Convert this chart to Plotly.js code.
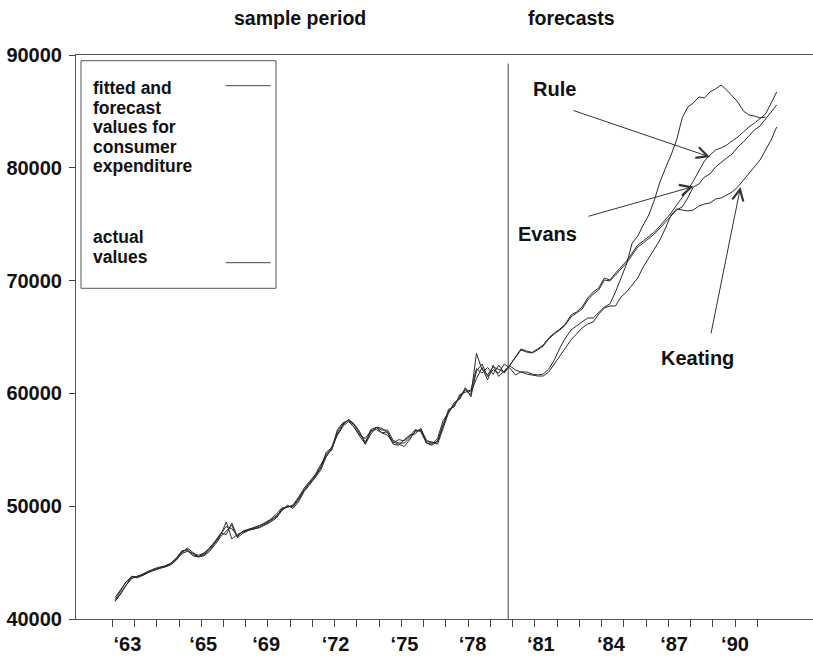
<!DOCTYPE html>
<html><head><meta charset="utf-8">
<script src="https://cdn.plot.ly/plotly-3.0.1.min.js"></script>
<style>html,body{margin:0;padding:0;background:#fff}#chart{width:813px;height:658px}</style>
</head><body><div id="chart"></div>
<script>
// quarterly data, first quarter = 1962 Q1 (axis years as labelled in the source figure)
const startYear = 1962;
const sampleEnd = 1979.8;

const tickYears  = [1962,1963,1964,1965,1966,1967,1968,1969,1970,1971,1972,1973,1974,1975,1976,1977,1978,1979,1980,1981,1982,1983,1984,1985,1986,1987,1988,1989,1990,1991];
// label positions as printed in the source (slightly off the tick marks)
const labelPos   = [1962.68,1966.09,1968.92,1972.04,1975.14,1978.20,1981.27,1984.42,1987.26,1990.00];
const labelText  = ['\u201863','\u201865','\u201869','\u201872','\u201875','\u201878','\u201881','\u201884','\u201887','\u201890'];
const yTicks = [40000,50000,60000,70000,80000,90000];

const actual = [
41550,42300,43100,43750,43650,43900,44100,44350,44500,44600,
44800,45250,45950,46200,45700,45550,45700,46100,46750,47450,
48600,47100,47500,47700,47900,48000,48150,48400,48700,49050,
49750,50000,49950,50550,51450,52050,52600,53400,54650,55000,
56600,57300,57650,57200,56500,55700,56600,56950,56750,56750,
55850,55600,55600,56050,56600,56850,55850,55600,55700,57200,
58450,58950,59750,60300,59850,63550,62100,61650,62350,62100,
61900,62450,
62080,61900,61900,61720,61630,61720,62160,62960,64030,64910,
65620,65980,66330,66690,66690,67220,67660,67930,68990,70230,
71470,73330,73950,74930,75820,77150,78740,79980,81130,82470,
84420,85390,85740,86280,86190,86720,86990,87340,86900,86370,
85830,85040,84680,84590,84420,84500];

const rule = [
41900,42600,43300,43600,43800,43950,44200,44400,44550,44700,
44950,45400,45800,46000,45800,45650,45850,46300,46900,47600,
47500,48500,47300,47800,47950,48100,48300,48550,48850,49300,
49850,49900,50100,50800,51600,52200,52800,53700,54400,55300,
56300,57100,57500,57000,56300,56000,56700,56800,56500,56300,
55600,55900,55800,56200,56800,56600,55600,55500,56000,57600,
58300,59200,59500,60400,60100,61300,62300,61200,62500,61500,
62000,62500,
63230,63940,63760,63630,63940,64290,64910,65360,65710,66150,
66950,67220,67660,68460,68990,69350,70230,70050,70670,71210,
71740,72450,73160,73510,73870,74310,74840,75370,75990,76700,
77320,78030,78830,79720,80600,81130,81580,81760,82020,82380,
82730,83170,83620,83970,84330,84770,85740,86720];

const evans = [
41700,42500,43300,43800,43700,44000,44250,44450,44600,44700,
44900,45350,46050,46100,45600,45500,45800,46250,46850,47500,
48200,48000,47400,47750,47950,48050,48250,48500,48750,49150,
49650,49950,50000,50700,51500,52100,52700,53500,54800,55200,
56800,57400,57600,57000,56200,55500,56800,57000,56500,56600,
55500,55400,55900,56300,56400,56900,55600,55400,55800,57300,
58600,58800,59900,60100,60300,62200,61800,62300,61700,62500,
61800,62500,
63140,63850,63670,63580,63850,64200,64820,65270,65620,66070,
66770,67130,67480,68280,68810,69170,70050,69970,70500,71030,
71560,72270,72980,73330,73690,74130,74660,75200,75730,76260,
76530,77320,78300,78560,79180,79450,80070,80510,80870,81220,
81840,82290,82820,83350,83710,84330,84950,85570];

const keating = [
41600,42200,43000,43600,43800,43850,44150,44300,44450,44650,
44850,45200,45800,46300,45900,45500,45600,46000,46600,47300,
47800,48300,47200,47600,47850,48000,48100,48350,48600,48950,
49600,50100,49800,50400,51300,51900,52500,53200,54400,55100,
56400,57200,57700,57300,56600,55500,56400,57000,56900,56500,
55700,55500,55300,55900,56700,56700,55700,55700,55500,56900,
58300,59000,59600,60500,59700,62000,62600,61500,62100,61800,
62600,62250,
61630,61900,61720,61630,61540,61540,61900,62610,63320,64030,
64740,65270,65800,66150,66330,67040,67570,67750,67750,68550,
68990,69610,70230,71210,72000,72710,73600,74660,75820,76350,
76260,76170,76260,76610,76790,76880,77230,77320,77590,77860,
78300,78920,79540,80070,80690,81580,82470,83620];

function quarters(n){ const a=[]; for(let i=0;i<n;i++) a.push(startYear+(i+0.5)/4); return a; }

const W=813, H=658, M={l:76,r:0,t:55,b:39};
const PW=W-M.l-M.r, PH=H-M.t-M.b;
const px = v => (v-M.l)/PW;
const py = v => (H-M.b-v)/PH;
const FONT = 'Liberation Sans, Arial, sans-serif';
const XRANGE = [1960.368, 1993.507];

const lineStyle = {color:'#2a2a2a', width:1};
const traces = [actual, rule, evans, keating].map(s => ({
  x: quarters(s.length), y: s, type:'scatter', mode:'lines', line: lineStyle, hoverinfo:'skip'
}));
traces.push({x:[], y:[], xaxis:'x2', type:'scatter', mode:'lines', hoverinfo:'skip'});

const txt = (t, x, y, size, anchor) => ({
  text: t, xref:'paper', yref:'paper', x: px(x), y: py(y), showarrow:false,
  xanchor: anchor || 'left', yanchor:'middle', borderpad:0, borderwidth:0,
  font:{family:FONT, size:size, color:'#111', weight:'bold'}
});
const arrow = (tx, ty, tailx, taily) => ({
  text:'', xref:'paper', yref:'paper', x: px(tx), y: py(ty), showarrow:true,
  ax: tailx-tx, ay: taily-ty, arrowhead:5, arrowsize:2.2, arrowwidth:1, arrowcolor:'#333', standoff:0
});

const annotations = [
  txt('sample period', 300, 18, 19.5, 'center'),
  txt('forecasts', 571, 18, 19.5, 'center'),
  txt('fitted and', 92.7, 88, 17.5),
  txt('forecast', 92.7, 107.6, 17.5),
  txt('values for', 92.7, 127.2, 17.5),
  txt('consumer', 92.7, 146.8, 17.5),
  txt('expenditure', 92.7, 166.4, 17.5),
  txt('actual', 92.7, 237.5, 17.5),
  txt('values', 92.7, 257.1, 17.5),
  txt('Rule', 533, 89, 20),
  txt('Evans', 518, 234, 20),
  txt('Keating', 661, 358, 20),
  arrow(710, 157, 572, 110),
  arrow(693.5, 186.5, 587, 216.7),
  arrow(740.5, 187, 710.7, 335)
];

const shapes = [
  {type:'line', xref:'x', yref:'y', x0:sampleEnd, x1:sampleEnd, y0:40000, y1:89250, line:{color:'#444', width:1}},
  {type:'rect', xref:'paper', yref:'paper', x0:px(81), x1:px(276), y0:py(60.7), y1:py(288.3), line:{color:'#555', width:1}},
  {type:'line', xref:'paper', yref:'paper', x0:px(225.7), x1:px(270.7), y0:py(85.7), y1:py(85.7), line:{color:'#444', width:1}},
  {type:'line', xref:'paper', yref:'paper', x0:px(225.7), x1:px(270.7), y0:py(262.7), y1:py(262.7), line:{color:'#444', width:1}}
];

const layout = {
  width:W, height:H, margin:M, paper_bgcolor:'#fff', plot_bgcolor:'#fff', showlegend:false,
  xaxis:{range:XRANGE, tickmode:'array', tickvals:tickYears, ticktext:tickYears.map(()=>''),
    ticks:'outside', ticklen:7, tickcolor:'#444', showline:true, linecolor:'#555', mirror:true,
    showgrid:false, zeroline:false},
  xaxis2:{range:XRANGE, overlaying:'x', anchor:'y', side:'bottom', tickmode:'array',
    tickvals:labelPos, ticktext:labelText, ticks:'outside', ticklen:7, tickcolor:'rgba(0,0,0,0)',
    showline:false, showgrid:false, zeroline:false,
    tickfont:{family:FONT, size:20, color:'#111', weight:'bold'}},
  yaxis:{range:[40000, 90000], tickmode:'array', tickvals:yTicks, ticktext:yTicks.map(String),
    ticks:'outside', ticklen:6, tickcolor:'#444', showline:true, linecolor:'#555',
    showgrid:false, zeroline:false, ticklabelstandoff:3,
    tickfont:{family:FONT, size:20, color:'#111', weight:'bold'}},
  annotations, shapes
};
Plotly.newPlot('chart', traces, layout, {staticPlot:true, displayModeBar:false});
</script>
</body></html>
